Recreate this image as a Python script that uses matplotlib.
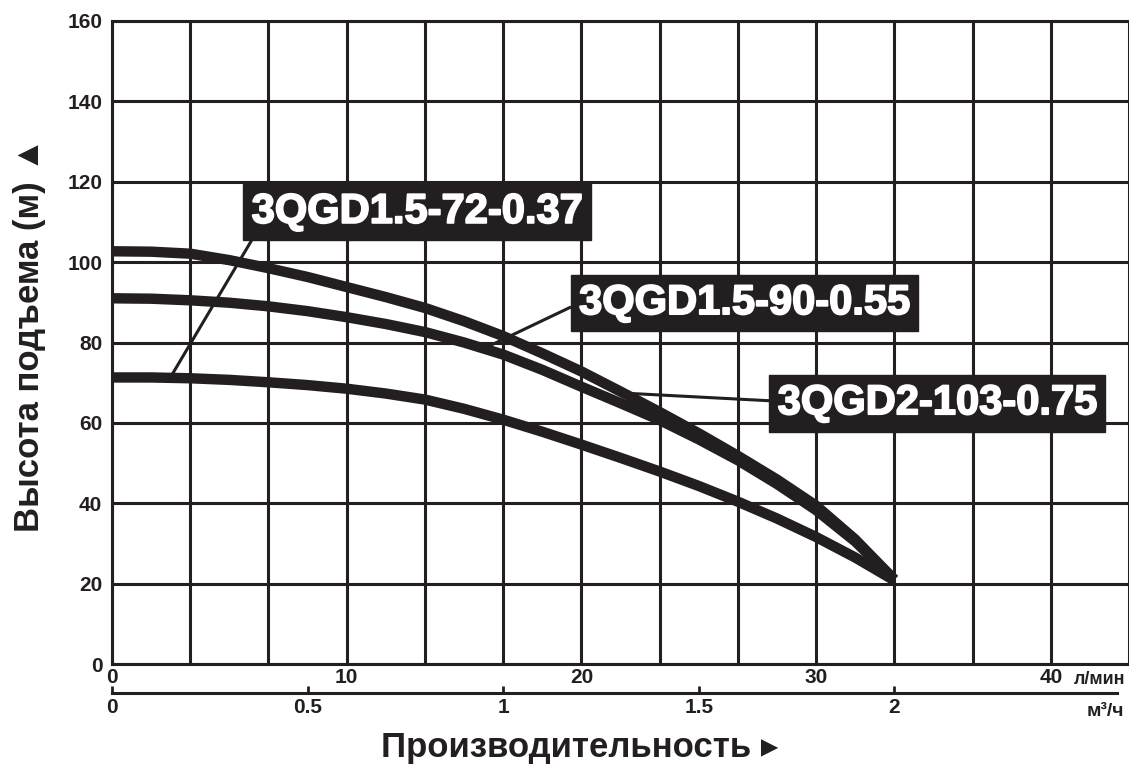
import numpy as np
import matplotlib
matplotlib.use('Agg')
import matplotlib.pyplot as plt
import matplotlib.patheffects as pe

# flow, m3/h
flow = [0, 0.1, 0.2, 0.3, 0.4, 0.5, 0.6, 0.7, 0.8, 0.9, 1.0,
        1.1, 1.2, 1.3, 1.4, 1.5, 1.6, 1.7, 1.8, 1.9, 2.0]
# head, m
head_72 = [71.3, 71.3, 71.1, 70.7, 70.1, 69.4, 68.5, 67.3, 65.8, 63.5, 60.8,
           57.8, 54.6, 51.3, 47.9, 44.3, 40.4, 36.2, 31.6, 26.5, 20.8]
head_90 = [91.0, 90.9, 90.5, 89.9, 89.0, 87.8, 86.3, 84.6, 82.6, 80.0, 77.0,
           73.2, 69.0, 64.9, 60.7, 55.9, 50.7, 44.8, 38.3, 30.5, 21.0]
head_103 = [102.7, 102.6, 102.1, 100.5, 98.5, 96.3, 93.8, 91.3, 88.6, 85.3, 81.6,
            77.3, 72.8, 67.8, 62.7, 57.4, 51.8, 45.9, 39.4, 31.0, 21.0]

names = ['3QGD1.5-72-0.37', '3QGD1.5-90-0.55', '3QGD2-103-0.75']
label_xy = [(0.78, 112.5), (1.617, 89.8), (2.11, 64.9)]
point_xy = [(0.148, 71.1), (0.94, 78.0), (1.33, 67.3)]
relpos = [(0.015, 0.0), (0.0, 0.5), (0.0, 0.55)]

lmin_ticks = [0, 10, 20, 30, 40]
m3h_ticks = [0, 0.5, 1, 1.5, 2]
y_ticks = [0, 20, 40, 60, 80, 100, 120, 140, 160]

ink = '#231f20'
fam = ['Liberation Sans', 'DejaVu Sans']

fig = plt.figure(figsize=(11.29, 7.69), dpi=100)
ax = fig.add_axes([112 / 1129, 105 / 769, 1 - 112 / 1129, 643 / 769])
ax.set_xlim(0, 2.6)
ax.set_ylim(0, 160)
ax.set_xticks(np.arange(0, 2.61, 0.2))
ax.set_yticks(y_ticks)
ax.grid(True, color=ink, lw=2.2)
ax.set_axisbelow(True)
ax.tick_params(axis='x', length=0, labelbottom=False)
ax.tick_params(axis='y', length=0, pad=7, labelsize=15, colors=ink)
for lab in ax.get_yticklabels():
    lab.set_family(fam)
    lab.set_fontweight('bold')
for s in ['top', 'left', 'bottom']:
    ax.spines[s].set_linewidth(2.2)
    ax.spines[s].set_color(ink)
ax.spines['right'].set_visible(False)

for h in [head_72, head_90, head_103]:
    ax.plot(flow, h, color=ink, lw=7.5, solid_capstyle='butt', solid_joinstyle='round')

for name, txy, pxy, rp in zip(names, label_xy, point_xy, relpos):
    ax.annotate(name, xy=pxy, xytext=txy, ha='center', va='center',
                color='white', fontsize=30, fontweight='bold', family=fam,
                path_effects=[pe.withStroke(linewidth=1.3, foreground='white')],
                bbox=dict(boxstyle='square,pad=0.2', fc=ink, ec=ink),
                arrowprops=dict(arrowstyle='-', color=ink, lw=2.2,
                                shrinkA=0, shrinkB=0, relpos=rp))

# l/min scale under the grid
sec1 = ax.secondary_xaxis('bottom', functions=(lambda q: q * 1000 / 60, lambda l: l * 60 / 1000))
sec1.set_xticks(lmin_ticks)
sec1.tick_params(length=0, pad=3, labelsize=15, colors=ink)
sec1.spines['bottom'].set_visible(False)
for lab in sec1.get_xticklabels():
    lab.set_family(fam)
    lab.set_fontweight('bold')

# m3/h scale
sec2 = ax.secondary_xaxis(-0.045)
sec2.set_xticks(m3h_ticks)
sec2.set_xticklabels(['0', '0.5', '1', '1.5', '2'])
sec2.tick_params(direction='in', length=5, width=2, pad=4, labelsize=15, colors=ink)
sec2.spines['bottom'].set_linewidth(2.2)
sec2.spines['bottom'].set_color(ink)
sec2.spines['bottom'].set_bounds(0, 2.57)
for lab in sec2.get_xticklabels():
    lab.set_family(fam)
    lab.set_fontweight('bold')

fig.text(0.974, 1 - 680 / 769, 'л/мин', ha='center', va='center', fontsize=13,
         fontweight='bold', family=fam, color=ink)
fig.text(0.979, 1 - 712 / 769, 'м³/ч', ha='center', va='center', fontsize=14,
         fontweight='bold', family=fam, color=ink)

fig.text(30 / 1129, 1 - 335 / 769, 'Высота подъема (м) ▲', rotation=90,
         ha='center', va='center', fontsize=25, fontweight='bold', family=fam, color=ink)
fig.text(580 / 1129, 1 - 748 / 769, 'Производительность ▸', ha='center', va='center',
         fontsize=25, fontweight='bold', family=fam, color=ink)

fig.savefig('out.png', dpi=100)
